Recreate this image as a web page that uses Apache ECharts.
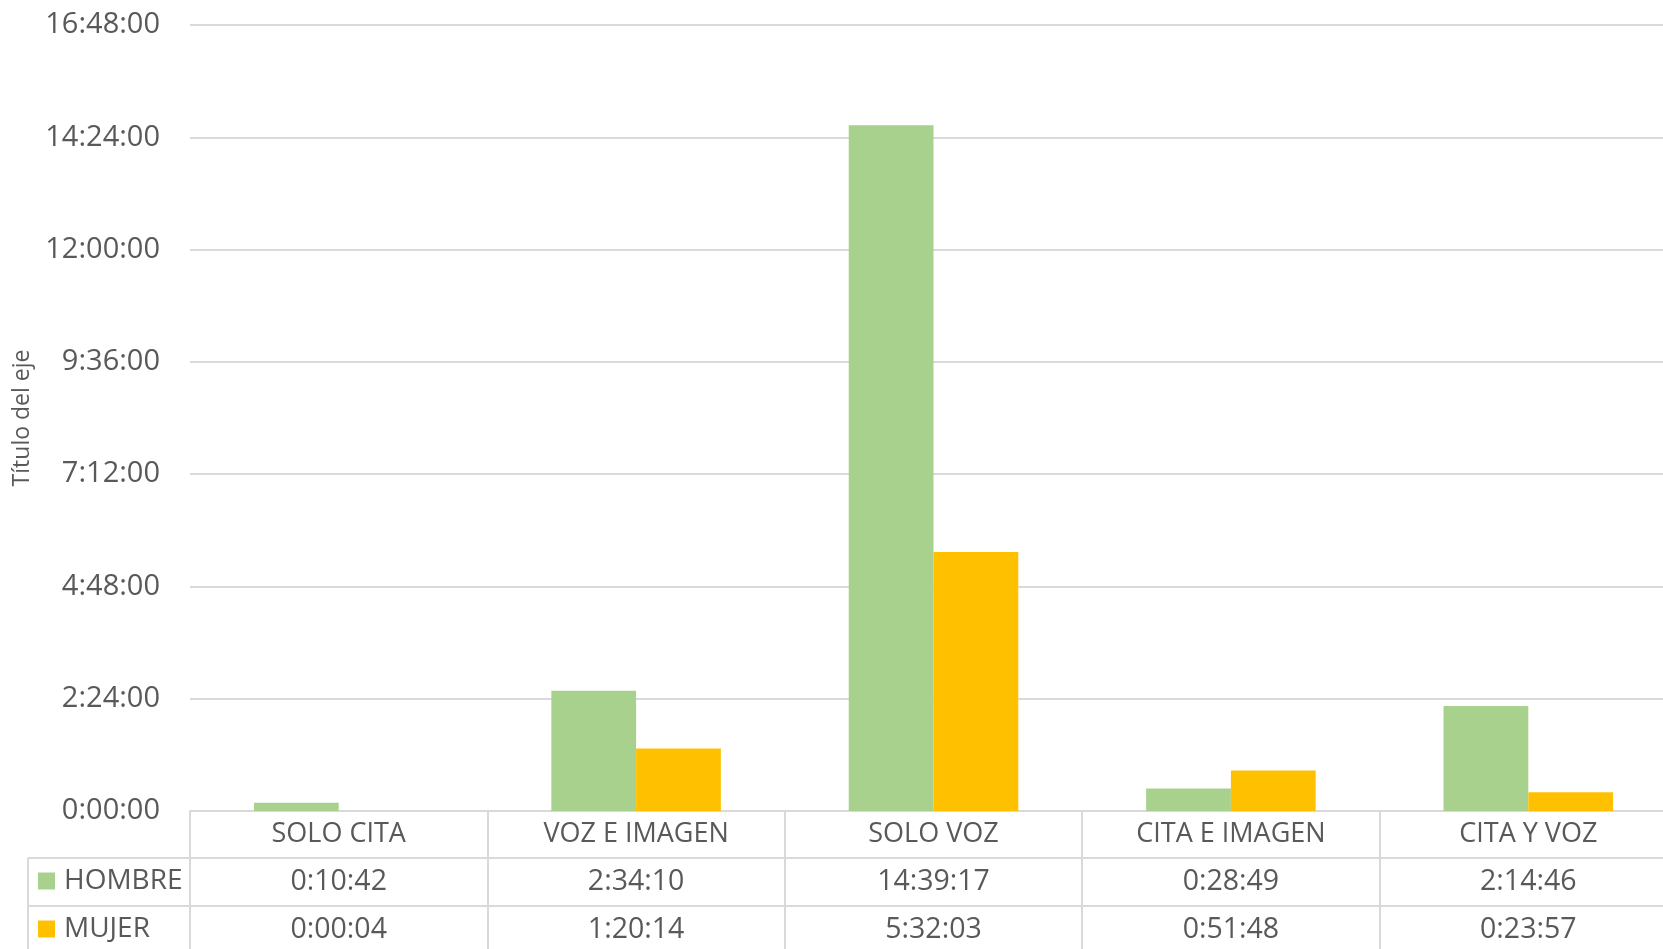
<!DOCTYPE html>
<html>
<head>
<meta charset="utf-8">
<script src="https://cdn.jsdelivr.net/npm/echarts@6/dist/echarts.min.js"></script>
<style>
html, body { margin: 0; padding: 0; background: #fff; }
#chart { width: 1663px; height: 949px; }
</style>
</head>
<body>
<div id="chart"></div>
<script>
// datos
var categorias = ['SOLO CITA', 'VOZ E IMAGEN', 'SOLO VOZ', 'CITA E IMAGEN', 'CITA Y VOZ'];
var hombre = ['0:10:42', '2:34:10', '14:39:17', '0:28:49', '2:14:46'];
var mujer = ['0:00:04', '1:20:14', '5:32:03', '0:51:48', '0:23:57'];
var ejeMax = 16.8;      // 16:48:00
var ejePaso = 2.4;      // 2:24:00

function aHoras(t) {
    var p = t.split(':');
    return (+p[0]) + (+p[1]) / 60 + (+p[2]) / 3600;
}
function aTexto(h) {
    var s = Math.round(h * 3600);
    var hh = Math.floor(s / 3600);
    var mm = Math.floor((s % 3600) / 60);
    var ss = s % 60;
    return hh + ':' + (mm < 10 ? '0' : '') + mm + ':' + (ss < 10 ? '0' : '') + ss;
}

var gris = '#595959';
var linea = '#d9d9d9';
var fuente = 'Open Sans';

var leyendaTexto = { color: gris, fontSize: 28, fontFamily: fuente, lineHeight: 30, padding: [0, 0, 0, 4] };

var opcion = {
    animation: false,
    textStyle: { fontFamily: fuente },
    grid: { left: 190, right: -14, top: 25, bottom: 138, outerBoundsMode: 'none', containLabel: false },
    legend: [
        {
            data: ['HOMBRE'], left: 38, top: 866, padding: 0, icon: 'rect',
            itemWidth: 17, itemHeight: 17, itemGap: 0,
            textStyle: leyendaTexto
        },
        {
            data: ['MUJER'], left: 38, top: 914, padding: 0, icon: 'rect',
            itemWidth: 17, itemHeight: 17, itemGap: 0,
            textStyle: leyendaTexto
        }
    ],
    xAxis: {
        type: 'category',
        data: categorias,
        axisLine: { lineStyle: { color: linea, width: 2 } },
        axisTick: { show: true, length: 140, lineStyle: { color: linea, width: 2 } },
        axisLabel: {
            margin: 0,
            interval: 0,
            verticalAlign: 'top',
            formatter: function (v, i) {
                return '{c|' + v + '}\n{v|' + hombre[i] + '}\n{v|' + mujer[i] + '}';
            },
            rich: {
                c: { color: gris, fontSize: 27, fontFamily: fuente, lineHeight: 47, height: 47 },
                v: { color: gris, fontSize: 28.5, fontFamily: fuente, lineHeight: 48, height: 48 }
            }
        }
    },
    yAxis: {
        type: 'value',
        min: 0,
        max: ejeMax,
        interval: ejePaso,
        name: 'Título del eje',
        nameLocation: 'middle',
        nameGap: 152,
        nameTextStyle: { color: gris, fontSize: 23, fontFamily: fuente },
        axisLine: { show: false },
        axisTick: { show: false },
        axisLabel: {
            color: gris, fontSize: 29, fontFamily: fuente, margin: 30,
            formatter: function (v) { return aTexto(v); }
        },
        splitLine: { lineStyle: { color: linea, width: 2 } }
    },
    series: [
        {
            name: 'HOMBRE',
            type: 'bar',
            data: hombre.map(aHoras),
            itemStyle: { color: '#A9D18E' },
            barGap: '0%',
            barCategoryGap: '43%'
        },
        {
            name: 'MUJER',
            type: 'bar',
            data: mujer.map(aHoras),
            itemStyle: { color: '#FFC000' }
        }
    ],
    graphic: [
        { type: 'line', shape: { x1: 28, y1: 858, x2: 1663, y2: 858 }, style: { stroke: linea, lineWidth: 2 } },
        { type: 'line', shape: { x1: 28, y1: 906, x2: 1663, y2: 906 }, style: { stroke: linea, lineWidth: 2 } },
        { type: 'line', shape: { x1: 28, y1: 858, x2: 28, y2: 949 }, style: { stroke: linea, lineWidth: 2 } }
    ]
};

var grafico = echarts.init(document.getElementById('chart'));
grafico.setOption(opcion);
</script>
</body>
</html>
